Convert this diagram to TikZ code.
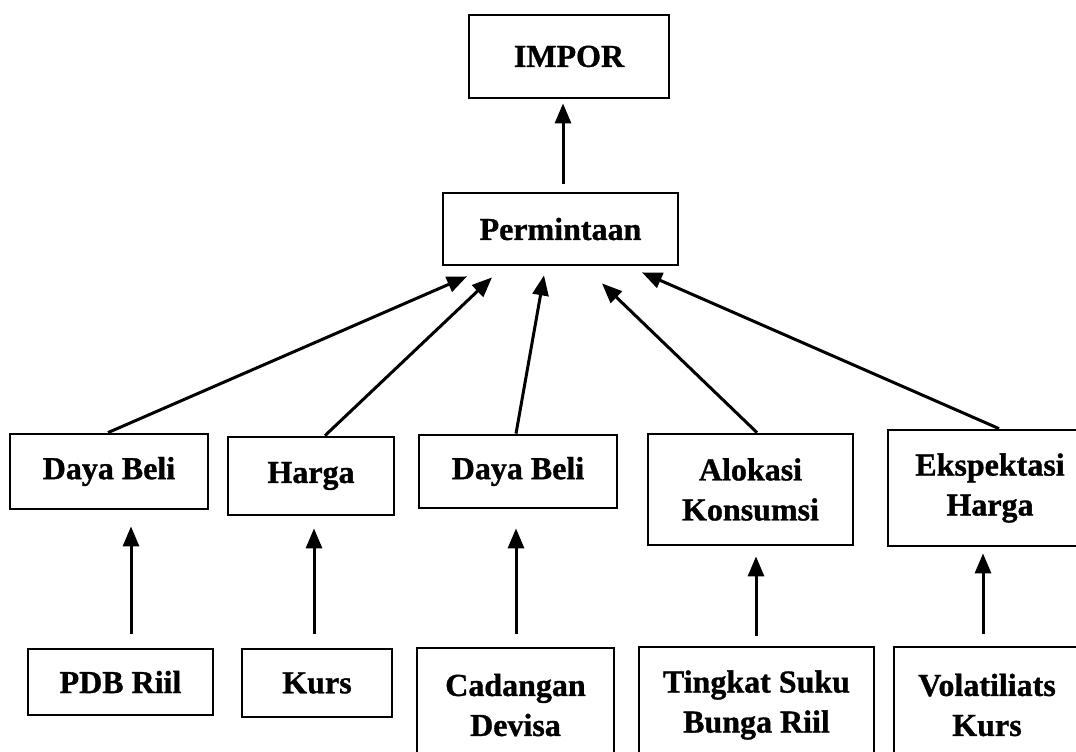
\documentclass[tikz,border=0pt]{standalone}
\usepackage{fontspec}
\setmainfont{Liberation Serif}[BoldFeatures={FakeBold=1}]
\usetikzlibrary{arrows.meta}

\begin{document}
\begin{tikzpicture}[%
    x=1pt,y=-1pt,%
    box/.style={draw,rectangle,line width=2.8pt,inner sep=0pt,align=center,%
      font=\bfseries\fontsize{32}{40}\selectfont},%
    arr/.style={line width=3pt,-{Triangle[length=20pt,width=16pt]}}%
    ]
  \useasboundingbox (0,0) rectangle (1076,752);%
  \clip (0,0) rectangle (1076,752);%

  % Kotak
  \node[box,minimum width=200pt,minimum height=83pt] (impor) at (569,56.5) {IMPOR};%
  \node[box,minimum width=235pt,minimum height=72pt] (perm) at (560.5,229) {Permintaan};%

  \node[box,minimum width=198pt,minimum height=75pt] (db1) at (109,471.5) {Daya Beli};%
  \node[box,minimum width=166pt,minimum height=78pt] (harga) at (311,476) {Harga};%
  \node[box,minimum width=198pt,minimum height=73pt] (db2) at (518,471.5) {Daya Beli};%
  \node[box,minimum width=205pt,minimum height=111pt] (alok) at (750.5,489.5) {Alokasi\\Konsumsi};%
  \node[box,minimum width=204pt,minimum height=116pt] (eksp) at (990,488) {Ekspektasi\\Harga};%

  \node[box,minimum width=185pt,minimum height=66pt] (pdb) at (120.5,682) {PDB Riil};%
  \node[box,minimum width=150pt,minimum height=68pt] (kurs) at (317,683) {Kurs};%
  \node[box,minimum width=197pt,minimum height=114pt] (cad) at (515.5,705) {Cadangan\\Devisa};%
  \node[box,minimum width=235pt,minimum height=116pt] (ting) at (756.5,705) {Tingkat Suku\\Bunga Riil};%
  \node[box,minimum width=186pt,minimum height=116pt] (vol) at (987,705) {Volatiliats\\Kurs};%

  % Panah
  \draw[arr,shorten <=8pt,shorten >=4pt] ([xshift=2.5pt]perm.north) -- ([xshift=-6pt]impor.south);%

  \draw[arr] ([xshift=-1pt]db1.north) -- ([xshift=-93.5pt,yshift=-10pt]perm.south);%
  \draw[arr] ([xshift=14pt]harga.north) -- ([xshift=-68.5pt,yshift=-11pt]perm.south);%
  \draw[arr] ([xshift=-2pt]db2.north) -- ([xshift=-16.5pt,yshift=-9pt]perm.south);%
  \draw[arr] ([xshift=6.5pt]alok.north) -- ([xshift=41.5pt,yshift=-17pt]perm.south);%
  \draw[arr] ([xshift=9pt]eksp.north) -- ([xshift=81.5pt,yshift=-6pt]perm.south);%

  \draw[arr,shorten <=14pt,shorten >=16pt] ([xshift=10.5pt]pdb.north) -- ([xshift=22pt]db1.south);%
  \draw[arr,shorten <=14pt,shorten >=12pt] ([xshift=-3pt]kurs.north) -- ([xshift=3pt]harga.south);%
  \draw[arr,shorten <=13pt,shorten >=19pt] ([xshift=0.5pt]cad.north) -- ([xshift=-2pt]db2.south);%
  \draw[arr,shorten <=10pt,shorten >=10pt] ([xshift=-0.5pt]ting.north) -- ([xshift=5.5pt]alok.south);%
  \draw[arr,shorten <=12pt,shorten >=6pt] ([xshift=-4pt]vol.north) -- ([xshift=-7pt]eksp.south);%
\end{tikzpicture}
\end{document}
